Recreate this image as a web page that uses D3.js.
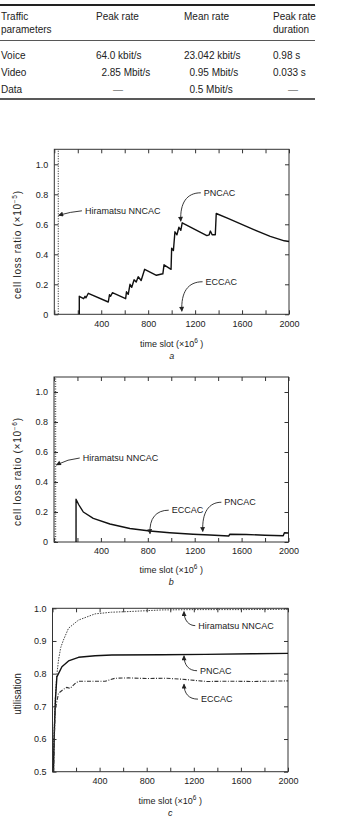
<!DOCTYPE html>
<html>
<head>
<meta charset="utf-8">
<script src="https://cdn.jsdelivr.net/npm/d3@7"></script>
<style>
  html,body{margin:0;padding:0;background:#fff;}
  svg{display:block;font-family:"Liberation Sans",Arial,Helvetica,sans-serif;}
</style>
</head>
<body>
<svg id="chart" width="352" height="822"></svg>
<script>
// ---------------- DATA ----------------
const tableHeaders = [["Traffic","parameters"],["Peak rate"],["Mean rate"],["Peak rate","duration"]];
const trafficTypes = ["Voice","Video","Data"];
const peakRates = ["64.0 kbit/s","2.85 Mbit/s","—"];
const meanRates = ["23.042 kbit/s","0.95 Mbit/s","0.5 Mbit/s"];
const peakDurations = ["0.98 s","0.033 s","—"];

const xTicks = [0,200,400,600,800,1000,1200,1400,1600,1800,2000];
const xTickLabels = [400,800,1200,1600,2000];
const yTicksLoss = [0,0.2,0.4,0.6,0.8,1.0];
const yTicksUtil = [0.5,0.6,0.7,0.8,0.9,1.0];

// panel a: cell loss ratio (x1e-5)
const pncacA = [[213,0],[213,0.12],[250,0.104],[262,0.12],[270,0.11],[290,0.14],[460,0.082],[470,0.13],[480,0.12],[495,0.144],[608,0.104],[615,0.15],[630,0.133],[645,0.2],[660,0.18],[680,0.23],[698,0.215],[715,0.25],[740,0.225],[770,0.3],[870,0.26],[925,0.27],[935,0.33],[995,0.3],[1000,0.44],[1015,0.425],[1028,0.55],[1045,0.53],[1062,0.58],[1078,0.56],[1090,0.61],[1300,0.525],[1320,0.53],[1330,0.555],[1345,0.53],[1372,0.53],[1380,0.672],[1480,0.64],[1700,0.565],[1840,0.52],[1960,0.49],[2000,0.485]];
const hiramatsuA = [[34,0],[34,1.1]];
// panel b: cell loss ratio (x1e-6)
const pncacB = [[188,0],[188,0.285],[210,0.25],[250,0.2],[335,0.158],[477,0.12],[647,0.09],[817,0.073],[987,0.062],[1186,0.052],[1330,0.047],[1490,0.04],[1500,0.052],[1640,0.05],[1800,0.045],[1955,0.042],[1965,0.062],[2000,0.06]];
const hiramatsuB = [[12,0],[12,1.1]];
// panel c: utilisation
const hiramatsuC = [[5,0.5],[12,0.6],[23,0.72],[35,0.79],[51,0.842],[70,0.88],[93,0.903],[136,0.939],[221,0.964],[362,0.983],[500,0.988],[645,0.99],[929,0.995],[1200,0.996],[1600,0.996],[2000,0.997]];
const pncacC = [[8,0.5],[15,0.62],[25,0.72],[37,0.79],[80,0.821],[136,0.839],[221,0.85],[362,0.855],[504,0.857],[929,0.858],[1300,0.859],[1700,0.861],[2000,0.862]];
const eccacC = [[10,0.5],[16,0.6],[23,0.689],[51,0.74],[93,0.752],[120,0.758],[150,0.755],[193,0.77],[221,0.777],[447,0.777],[532,0.786],[645,0.787],[800,0.785],[957,0.786],[1100,0.783],[1311,0.776],[1500,0.777],[1700,0.776],[2000,0.778]];

// ---------------- DRAW ----------------
const svg = d3.select("#chart");
svg.append("rect").attr("width",352).attr("height",822).attr("fill","#fff");

const defs = svg.append("defs");
defs.append("marker").attr("id","arrow").attr("viewBox","0 0 10 10")
  .attr("refX",9).attr("refY",5).attr("markerUnits","userSpaceOnUse")
  .attr("markerWidth",6).attr("markerHeight",5).attr("orient","auto")
  .append("path").attr("d","M0,0 L10,5 L0,10 z").attr("fill","#222");

// ---- table ----
const tbl = svg.append("g").attr("font-size",10).attr("fill","#222");
tbl.append("line").attr("x1",0).attr("x2",315).attr("y1",5).attr("y2",5).attr("stroke","#222").attr("stroke-width",1.8);
tbl.append("line").attr("x1",0).attr("x2",315).attr("y1",40.5).attr("y2",40.5).attr("stroke","#444").attr("stroke-width",0.9);
tbl.append("line").attr("x1",0).attr("x2",315).attr("y1",99).attr("y2",99).attr("stroke","#222").attr("stroke-width",1.6);
const colX = [1,96,184,273];
tableHeaders.forEach((lines,i)=>{
  lines.forEach((s,j)=>{
    tbl.append("text").attr("x",colX[i]).attr("y",19.5+j*13).text(s);
  });
});
const rowY = [58.5,75.5,92.5];
trafficTypes.forEach((s,i)=>tbl.append("text").attr("x",1).attr("y",rowY[i]).text(s));
function decimalText(s,decX,dashX,y){
  if(s==="—"){ tbl.append("text").attr("x",dashX).attr("y",y).attr("text-anchor","middle").attr("fill","#777").text(s); return; }
  const k = s.indexOf(".");
  tbl.append("text").attr("x",decX).attr("y",y).attr("text-anchor","end").text(s.slice(0,k));
  tbl.append("text").attr("x",decX).attr("y",y).text(s.slice(k));
}
peakRates.forEach((s,i)=>decimalText(s,107,118,rowY[i]));
meanRates.forEach((s,i)=>decimalText(s,195,0,rowY[i]));
peakDurations.forEach((s,i)=>{
  if(s==="—") tbl.append("text").attr("x",293).attr("y",rowY[i]).attr("text-anchor","middle").attr("fill","#777").text(s);
  else tbl.append("text").attr("x",273).attr("y",rowY[i]).text(s);
});

// ---- panels ----
function panel(p){
  const x = d3.scaleLinear().domain([0,2000]).range([p.left,p.right]);
  const y = d3.scaleLinear().domain(p.yDomain).range([p.bottom,p.top]);
  const g = svg.append("g");
  const fmtY = p.fmtY;
  const ax = (sel)=>{ sel.select(".domain").remove(); sel.selectAll("line").attr("stroke","#333"); sel.selectAll("text").attr("font-size",9).attr("fill","#222").attr("font-family",null); };
  g.append("g").attr("transform",`translate(0,${p.bottom})`)
    .call(d3.axisBottom(x).tickValues(xTicks).tickSize(-4).tickPadding(6)
      .tickFormat(d=> xTickLabels.includes(d) ? d : "")).call(ax);
  g.append("g").attr("transform",`translate(0,${p.top})`)
    .call(d3.axisTop(x).tickValues(xTicks).tickSize(-4).tickFormat("")).call(ax);
  g.append("g").attr("transform",`translate(${p.left},0)`)
    .call(d3.axisLeft(y).tickValues(p.yTicks).tickSize(-4).tickPadding(6).tickFormat(fmtY)).call(ax);
  g.append("g").attr("transform",`translate(${p.right},0)`)
    .call(d3.axisRight(y).tickValues(p.yTicks).tickSize(-4).tickFormat("")).call(ax);
  g.append("rect").attr("x",p.left).attr("y",p.top).attr("width",p.right-p.left).attr("height",p.bottom-p.top)
    .attr("fill","none").attr("stroke","#333").attr("stroke-width",1);

  const line = d3.line().x(d=>x(d[0])).y(d=>y(d[1]));
  p.series.forEach(s=>{
    g.append("path").datum(s.data).attr("d",line).attr("fill","none")
      .attr("stroke",s.color||"#111").attr("stroke-width",s.width||1.4)
      .attr("stroke-dasharray",s.dash||null).attr("stroke-linejoin","round");
  });

  p.notes.forEach(n=>{
    const lx=x(n.label[0]), ly=y(n.label[1]), tx=x(n.tip[0]), ty=y(n.tip[1]);
    g.append("text").attr("x",lx).attr("y",ly).attr("dy","0.35em").attr("font-size",9).attr("fill","#222").text(n.text);
    const sx = lx-3;
    let d;
    if(n.shape==="straight") d=`M${sx},${ly} Q${(sx+tx)/2},${ly+1} ${tx},${ty}`;
    else if(n.shape==="hook") d=`M${sx},${ly} C${tx+6},${ly} ${tx-1},${ly+(ty-ly)*0.35} ${tx},${ty}`;
    else d=`M${sx},${ly} C${tx+5},${ly} ${tx},${ly-(ly-ty)*0.35} ${tx},${ty}`;
    g.append("path").attr("d",d).attr("fill","none").attr("stroke","#222").attr("stroke-width",0.9).attr("marker-end","url(#arrow)");
  });

  // x title
  const cx=(p.left+p.right)/2;
  const xt = g.append("text").attr("x",cx).attr("y",p.xTitleY).attr("text-anchor","middle").attr("font-size",9).attr("fill","#222");
  xt.append("tspan").text("time slot (×10");
  xt.append("tspan").attr("dy",-4).attr("font-size",6.5).text("6");
  xt.append("tspan").attr("dy",4).text(" )");
  g.append("text").attr("x",cx).attr("y",p.xTitleY+12).attr("text-anchor","middle").attr("font-size",9).attr("font-style","italic").attr("fill","#222").text(p.tag);

  // y title
  const yt = g.append("text").attr("transform",`translate(${p.yTitleX},${p.yTitleY}) rotate(-90)`)
    .attr("text-anchor","middle").attr("font-size",p.yTitleSize).attr("fill","#222");
  if(p.yTitleLen) yt.attr("textLength",p.yTitleLen).attr("lengthAdjust","spacing");
  yt.append("tspan").text(p.yTitle);
  if(p.yExp){
    yt.append("tspan").attr("dy",-4).attr("font-size",6.5).text(p.yExp);
    yt.append("tspan").attr("dy",4).text(")");
  }
}

const fmtLoss = d => d===0 ? "0" : d3.format(".1f")(d);

panel({left:54.3,right:289,top:149.3,bottom:314.3,yDomain:[0,1.1],yTicks:yTicksLoss,fmtY:fmtLoss,
  series:[{data:hiramatsuA,dash:"1,1.5",width:1.1,color:"#333"},{data:pncacA,width:1.4}],
  notes:[{text:"Hiramatsu NNCAC",label:[261,0.69],tip:[37,0.66],shape:"straight"},
         {text:"PNCAC",label:[1274,0.81],tip:[1078,0.62],shape:"hook"},
         {text:"ECCAC",label:[1289,0.217],tip:[1087,0.02],shape:"hook"}],
  xTitleY:347,tag:"a",yTitle:"cell loss ratio (×10",yExp:"−5",yTitleX:21,yTitleY:245,yTitleSize:10,yTitleLen:108});

panel({left:54,right:288.5,top:377,bottom:542,yDomain:[0,1.1],yTicks:yTicksLoss,fmtY:fmtLoss,
  series:[{data:hiramatsuB,dash:"1,1.5",width:1.6,color:"#555"},{data:pncacB,width:1.4}],
  notes:[{text:"Hiramatsu NNCAC",label:[245,0.56],tip:[20,0.514],shape:"straight"},
         {text:"ECCAC",label:[1004,0.212],tip:[819,0.055],shape:"hook"},
         {text:"PNCAC",label:[1453,0.265],tip:[1269,0.07],shape:"hook"}],
  xTitleY:573,tag:"b",yTitle:"cell loss ratio (×10",yExp:"−6",yTitleX:21,yTitleY:472,yTitleSize:10,yTitleLen:108});

panel({left:52.5,right:288,top:608.3,bottom:771.7,yDomain:[0.5,1.0],yTicks:yTicksUtil,fmtY:d3.format(".1f"),
  series:[{data:hiramatsuC,dash:"1.5,1.2",width:1.0,color:"#444"},{data:pncacC,width:1.4},{data:eccacC,dash:"4,1.5,1,1.5",width:1.1,color:"#333"}],
  notes:[{text:"Hiramatsu NNCAC",label:[1238,0.947],tip:[1117,0.99],shape:"up"},
         {text:"PNCAC",label:[1253,0.809],tip:[1117,0.855],shape:"up"},
         {text:"ECCAC",label:[1261,0.722],tip:[1117,0.768],shape:"up"}],
  xTitleY:804,tag:"c",yTitle:"utilisation",yExp:null,yTitleX:21,yTitleY:694,yTitleSize:10,yTitleLen:null});
</script>
</body>
</html>
